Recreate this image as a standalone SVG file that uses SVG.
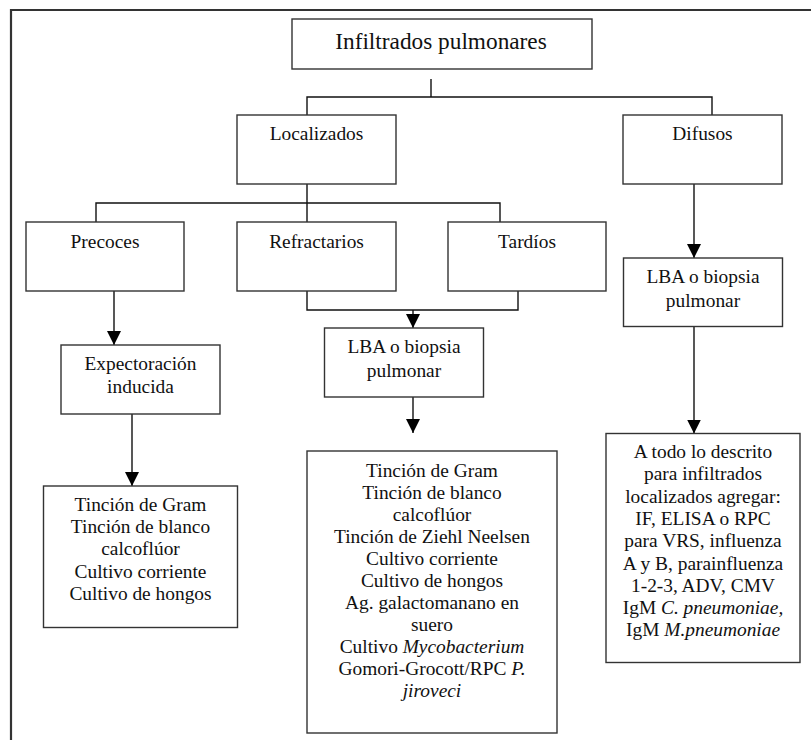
<svg xmlns="http://www.w3.org/2000/svg" width="811" height="740" viewBox="0 0 811 740">
<style>
.box{fill:#fff;stroke:#333;stroke-width:1.4}
.t{font-family:"Liberation Serif","Times New Roman",serif;font-size:19.4px;fill:#111;text-anchor:middle}
.title{font-size:23.3px}
.con{fill:none;stroke:#111;stroke-width:1.4}
.frame{fill:none;stroke:#333;stroke-width:2.2}
.i{font-style:italic}
</style>
<defs>
<marker id="ah" viewBox="0 0 14 14" refX="14" refY="7" markerWidth="14" markerHeight="14" markerUnits="userSpaceOnUse" orient="auto">
<path d="M0,0 L14,7 L0,14 z" fill="#000"/>
</marker>
</defs>
<rect width="811" height="740" fill="#fff"/>
<path class="frame" d="M11,742 V10 H813"/>

<g id="connectors">
<path class="con" d="M431,79 V97 M307,115 V97 H712 V115"/>
<path class="con" d="M307,184 V222 M96,222 V203 H500 V222"/>
<path class="con" d="M307,291 V310 H518 V291"/>
<path class="con" d="M413,310 V328" marker-end="url(#ah)"/>
<path class="con" d="M114,291 V345" marker-end="url(#ah)"/>
<path class="con" d="M132,414 V486" marker-end="url(#ah)"/>
<path class="con" d="M413,397 V433" marker-end="url(#ah)"/>
<path class="con" d="M694,184 V258" marker-end="url(#ah)"/>
<path class="con" d="M694,326.5 V433.5" marker-end="url(#ah)"/>
</g>

<g id="n-infiltrados">
<rect class="box" x="292" y="19" width="300" height="50"/>
<text class="t title" x="441" y="48.5">Infiltrados pulmonares</text>
</g>
<g id="n-localizados">
<rect class="box" x="237" y="115" width="159" height="69"/>
<text class="t" x="316.5" y="140">Localizados</text>
</g>
<g id="n-difusos">
<rect class="box" x="623" y="115" width="159" height="69"/>
<text class="t" x="702.5" y="140">Difusos</text>
</g>
<g id="n-precoces">
<rect class="box" x="26" y="222" width="158" height="69"/>
<text class="t" x="105" y="247.5">Precoces</text>
</g>
<g id="n-refractarios">
<rect class="box" x="237" y="222" width="159" height="69"/>
<text class="t" x="316.5" y="247.5">Refractarios</text>
</g>
<g id="n-tardios">
<rect class="box" x="448" y="222" width="158" height="69"/>
<text class="t" x="527" y="247.5">Tardíos</text>
</g>
<g id="n-expectoracion">
<rect class="box" x="61" y="345" width="159" height="69"/>
<text class="t" x="140.5" y="370">Expectoración</text>
<text class="t" x="140.5" y="393.2">inducida</text>
</g>
<g id="n-lba-mid">
<rect class="box" x="324.5" y="328" width="159" height="69"/>
<text class="t" x="404" y="353.3">LBA o biopsia</text>
<text class="t" x="404" y="376.6">pulmonar</text>
</g>
<g id="n-lba-right">
<rect class="box" x="623.5" y="258" width="159" height="68.5"/>
<text class="t" x="703" y="283.3">LBA o biopsia</text>
<text class="t" x="703" y="306.6">pulmonar</text>
</g>
<g id="n-left-tests">
<rect class="box" x="43.5" y="486" width="194" height="141.5"/>
<text class="t" x="140.5" y="511">Tinción de Gram</text>
<text class="t" x="140.5" y="533.2">Tinción de blanco</text>
<text class="t" x="140.5" y="555.4">calcoflúor</text>
<text class="t" x="140.5" y="577.6">Cultivo corriente</text>
<text class="t" x="140.5" y="599.8">Cultivo de hongos</text>
</g>
<g id="n-mid-tests">
<rect class="box" x="307" y="451" width="250" height="282"/>
<text class="t" x="432" y="477">Tinción de Gram</text>
<text class="t" x="432" y="499">Tinción de blanco</text>
<text class="t" x="432" y="521">calcoflúor</text>
<text class="t" x="432" y="543">Tinción de Ziehl Neelsen</text>
<text class="t" x="432" y="565">Cultivo corriente</text>
<text class="t" x="432" y="587">Cultivo de hongos</text>
<text class="t" x="432" y="609">Ag. galactomanano en</text>
<text class="t" x="432" y="631">suero</text>
<text class="t" x="432" y="653">Cultivo <tspan class="i">Mycobacterium</tspan></text>
<text class="t" x="432" y="675">Gomori-Grocott/RPC <tspan class="i">P.</tspan></text>
<text class="t i" x="432" y="697">jiroveci</text>
</g>
<g id="n-right-tests">
<rect class="box" x="606" y="433.5" width="194" height="229"/>
<text class="t" x="703" y="458">A todo lo descrito</text>
<text class="t" x="703" y="480.3">para infiltrados</text>
<text class="t" x="703" y="502.6">localizados agregar:</text>
<text class="t" x="703" y="524.9">IF, ELISA o RPC</text>
<text class="t" x="703" y="547.2">para VRS, influenza</text>
<text class="t" x="703" y="569.5">A y B, parainfluenza</text>
<text class="t" x="703" y="591.8">1-2-3, ADV, CMV</text>
<text class="t" x="703" y="614.1">IgM <tspan class="i">C. pneumoniae,</tspan></text>
<text class="t" x="703" y="636.4">IgM <tspan class="i">M.pneumoniae</tspan></text>
</g>
</svg>
